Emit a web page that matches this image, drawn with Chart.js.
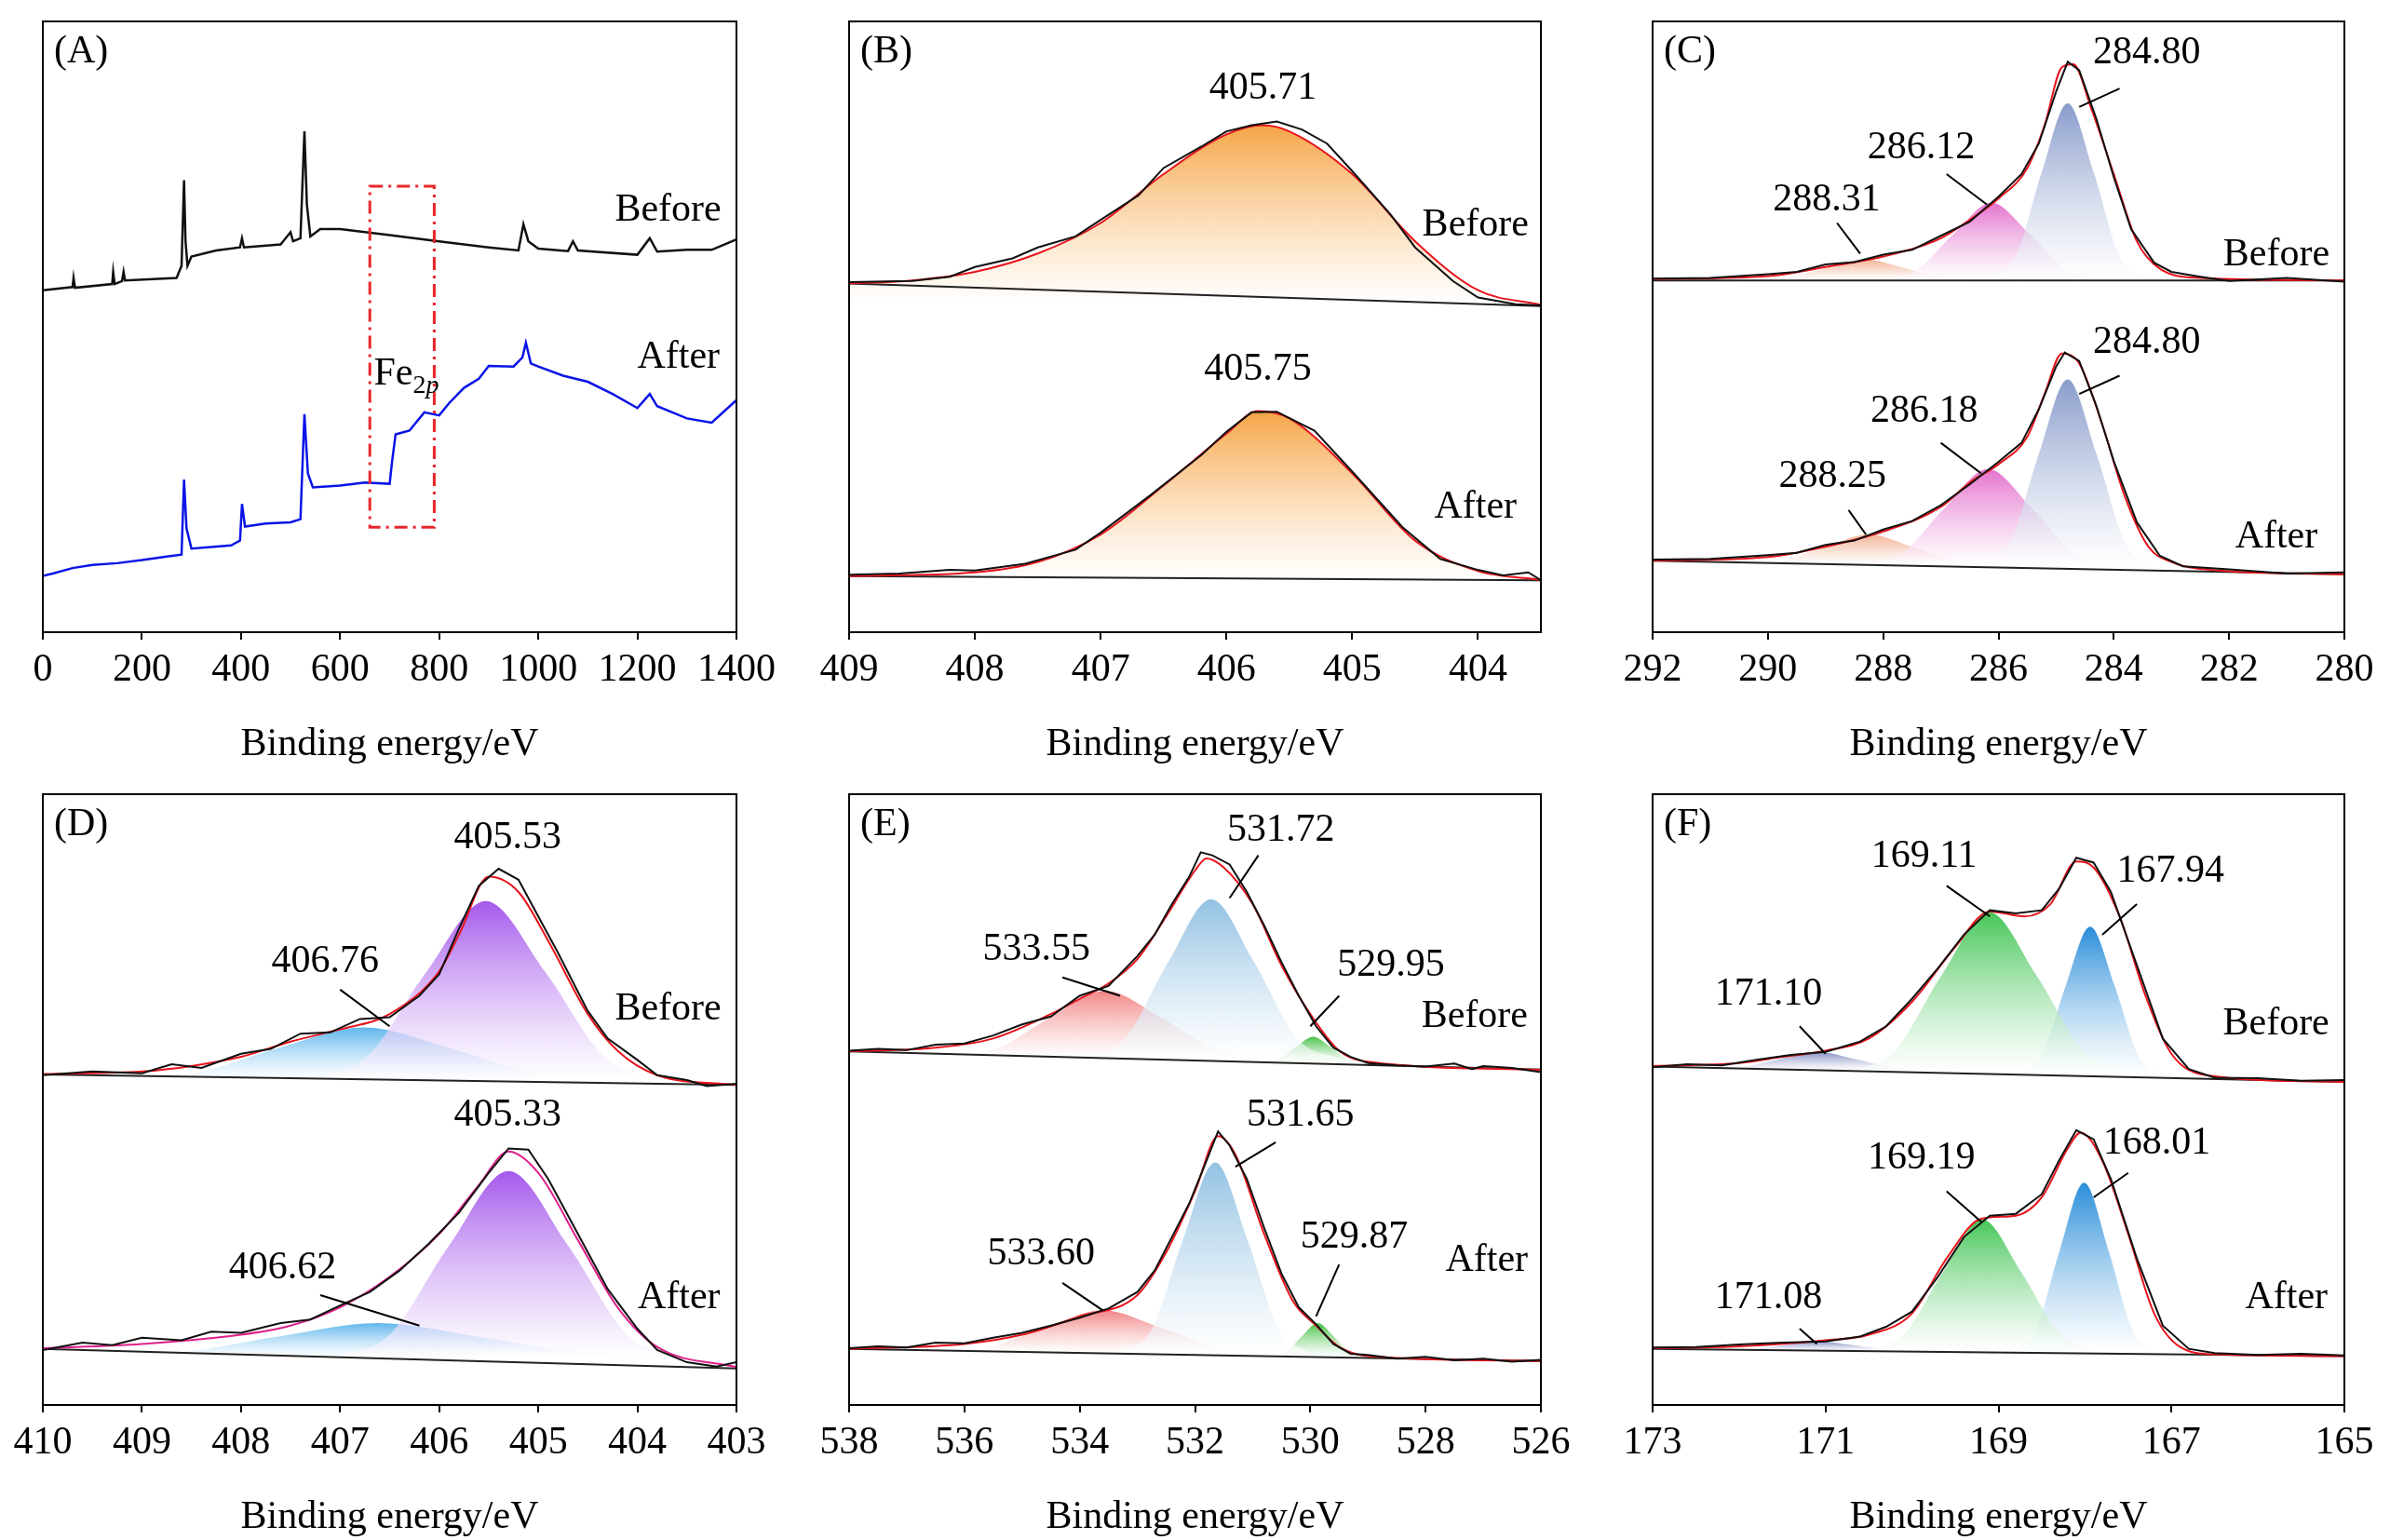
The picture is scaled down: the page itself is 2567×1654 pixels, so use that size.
<!DOCTYPE html>
<html><head><meta charset="utf-8">
<script src="https://cdn.jsdelivr.net/npm/chart.js@4"></script>
<style>body{margin:0;background:#fff;width:2567px;height:1654px;position:relative;overflow:hidden}canvas{position:absolute}</style>
</head><body>
<script>
// ---------- DATA ----------
const A_before=[[0,56],[60,56.5],[62,58],[65,56.4],[140,57],[142,59],[145,57],[160,57.5],[163,59],[166,57.6],[270,58],[280,60],[285,74],[288,64],[292,60],[300,61.5],[350,62.5],[398,63],[402,64.5],[406,63],[480,63.5],[500,65.5],[505,64],[520,64.5],[528,82],[533,70],[540,64.8],[560,66],[600,66],[700,65],[800,64],[900,63],[960,62.5],[970,66.8],[980,64],[1000,62.8],[1060,62.4],[1070,64],[1080,62.5],[1200,61.8],[1225,64.5],[1240,62.3],[1300,62.6],[1350,62.6],[1400,64.3]];
const A_after=[[0,9.2],[20,9.6],[60,10.5],[100,11],[150,11.3],[200,11.8],[250,12.4],[280,12.7],[285,25],[290,17],[300,13.7],[380,14.2],[398,15],[402,21],[408,17.3],[450,17.8],[500,18],[520,18.5],[528,35.7],[535,26],[545,23.7],[600,24],[650,24.5],[700,24.3],[705,28],[712,32.4],[740,33],[770,36],[800,35.5],[820,37.5],[850,40],[880,41.5],[900,43.6],[950,43.5],[968,45],[975,47.4],[985,44],[1000,43.5],[1050,42],[1100,41],[1150,39],[1200,36.7],[1225,39],[1240,37],[1300,35],[1350,34.3],[1400,38]];
const A_box=[660,790,17.2,73];

const B_bef_base=[[409,57.1],[403.5,53.4]];
const B_bef_fit=[[409,57.1],[408.5,57.6],[408,59],[407.5,62],[407,67],[406.5,75],[406,81.5],[405.71,83],[405.5,82],[405,75],[404.5,64],[404,56],[403.5,53.6]];
const B_bef_raw=[[409,57.3],[408.5,57.5],[408.2,58.2],[408,59.8],[407.7,61.2],[407.5,63],[407.2,64.8],[407,67.5],[406.7,71.5],[406.5,76],[406.2,79.5],[406,82],[405.8,83],[405.6,83.6],[405.4,82.3],[405.2,80],[405,75.5],[404.7,68.5],[404.5,63],[404.2,57.5],[404,54.8],[403.7,53.7],[403.5,53.5]];
const B_aft_base=[[409,9.2],[403.5,8.5]];
const B_aft_fit=[[409,9.2],[408,9.8],[407.5,11.5],[407,16],[406.5,24],[406,32.5],[405.75,36.2],[405.5,35],[405,26],[404.5,15],[404,10],[403.5,8.6]];
const B_aft_raw=[[409,9.4],[408.6,9.6],[408.2,10.2],[408,10.1],[407.6,11.2],[407.2,13.5],[407,16.3],[406.6,22.5],[406.2,29],[406,32.8],[405.8,36],[405.6,36.1],[405.3,33],[405,26.3],[404.6,17.2],[404.3,12],[404,10.2],[403.8,9.3],[403.6,9.8],[403.5,8.5]];
const B_labels=[[405.71,89,'405.71'],[404.02,66.6,'Before'],[405.75,43,'405.75'],[404.02,20.4,'After']];

const C_bef_base=[[292,57.6],[280,57.6]];
const C_bef_fit=[[292,57.8],[290,58.3],[289,59.8],[288,61.5],[287,64.5],[286.5,67.5],[286,71],[285.5,76],[285.2,83],[284.9,92.5],[284.7,93],[284.4,86],[284,75],[283.6,64],[283.2,59.5],[282.5,58],[280,57.6]];
const C_bef_raw=[[292,57.9],[291,58],[290,58.6],[289.5,59],[289,60.2],[288.5,60.6],[288,61.8],[287.5,62.6],[287,64.9],[286.5,67.2],[286,71.3],[285.6,75],[285.3,80],[285,88.5],[284.8,93.4],[284.6,92],[284.3,84],[284,74.5],[283.7,66],[283.3,60.5],[283,59],[282.5,58.2],[282,57.5],[281,58],[280,57.4]];
const C_bef_c1=[[283.45,57.9],[283.9,61.5],[284.35,75.3],[284.8,86.6],[285.25,75.3],[285.7,61.5],[286.15,57.9]];
const C_bef_c2=[[284.17,57.7],[284.82,59.3],[285.47,65.3],[286.12,70.3],[286.77,65.3],[287.42,59.3],[288.07,57.7]];
const C_bef_c3=[[286.36,57.6],[287.01,58.1],[287.66,59.7],[288.31,61],[288.96,59.7],[289.61,58.1],[290.26,57.6]];
const C_aft_base=[[292,11.7],[280,9.5]];
const C_aft_fit=[[292,11.7],[290,12.3],[289,14],[288,16.5],[287,20.5],[286.5,24.5],[286,27.5],[285.5,32],[285.2,39],[284.9,45.6],[284.6,44],[284.2,34],[283.8,22],[283.4,14],[283,11.5],[282,10],[280,9.5]];
const C_aft_raw=[[292,11.9],[291,12],[290,12.6],[289.5,13],[289,14.3],[288.5,15],[288,16.8],[287.5,18.2],[287,20.8],[286.5,24.2],[286,27.9],[285.6,31],[285.3,36.5],[285,43.5],[284.85,45.8],[284.6,44.4],[284.3,37],[284,28],[283.6,18],[283.2,12.5],[282.8,10.8],[282,10.3],[281,9.6],[280,9.8]];
const C_aft_c1=[[283.3,10.7],[283.8,14.6],[284.3,29.2],[284.8,41.4],[285.3,29.2],[285.8,14.6],[286.3,10.7]];
const C_aft_c2=[[283.93,10.9],[284.68,12.9],[285.43,20.4],[286.18,26.7],[286.93,20.4],[287.68,12.9],[288.43,10.9]];
const C_aft_c3=[[286,11],[286.75,11.7],[287.5,14],[288.25,16],[289,14],[289.75,11.7],[290.5,11]];
const C_labels=[[283.43,94.8,'284.80',283.9,89,284.6,86],[287.34,79.3,'286.12',286.9,75,286.2,70],[288.98,70.8,'288.31',288.8,67,288.4,62],[281.18,61.8,'Before'],
  [283.43,47.4,'284.80',283.9,42,284.6,39],[287.29,36.2,'286.18',287,31,286.3,26],[288.88,25.4,'288.25',288.6,20,288.3,16],[281.18,15.5,'After']];

const D_bef_base=[[410,54.1],[403,52.4]];
const D_bef_fit=[[410,54.2],[409,54.6],[408.5,55.5],[408,57],[407.5,59.5],[407,61.5],[406.5,64],[406,71],[405.8,77],[405.5,86.5],[405.2,84],[404.9,76],[404.5,64],[404.2,58],[403.8,54],[403,52.4]];
const D_bef_raw=[[410,54],[409.5,54.6],[409,54.3],[408.7,55.8],[408.4,55.2],[408,57.5],[407.7,58.3],[407.4,60.8],[407.1,61],[406.8,63.2],[406.5,63.5],[406.2,67],[406,70.5],[405.8,78],[405.6,85],[405.4,87.8],[405.2,86],[405,80],[404.8,74],[404.5,64.5],[404.3,60],[404,56.5],[403.8,54],[403.5,53.2],[403.3,52.2],[403,52.6]];
const D_bef_c1=[[403.73,53.3],[404.33,57],[404.93,70.9],[405.53,82.5],[406.13,70.9],[406.73,57],[407.33,53.3]];
const D_bef_c2=[[404.21,53.4],[405.06,54.4],[405.91,58.5],[406.76,61.8],[407.61,58.5],[408.46,54.4],[409.31,53.4]];
const D_aft_base=[[410,9.2],[403,6]];
const D_aft_fit=[[410,9.3],[409,10],[408,11.5],[407.5,13],[407,16],[406.5,21],[406,28],[405.6,36],[405.3,41.5],[405,38],[404.6,27],[404.2,16],[403.8,9.5],[403,6.2]];
const D_aft_raw=[[410,9],[409.6,10.2],[409.3,9.8],[409,11],[408.6,10.6],[408.3,12],[408,11.8],[407.6,13.4],[407.3,14],[407,16.3],[406.7,18.5],[406.4,22],[406.1,26.5],[405.8,31.5],[405.5,38],[405.3,42],[405.1,41.8],[404.9,37],[404.6,28],[404.3,19],[404,12.5],[403.8,9],[403.5,7],[403.2,6.3],[403,7]];
const D_aft_c1=[[403.5,7.6],[404.1,11.5],[404.7,26.1],[405.3,38.3],[405.9,26.1],[406.5,11.5],[407.1,7.6]];
const D_aft_c2=[[403.62,7.9],[404.62,8.6],[405.62,11.2],[406.62,13.4],[407.62,11.2],[408.62,8.6],[409.62,7.9]];
const D_labels=[[405.31,92.8,'405.53'],[407.15,72.6,'406.76',407.0,68,406.5,62],[403.69,64.8,'Before'],
  [405.31,47.4,'405.33'],[407.58,22.4,'406.62',407.2,18,406.2,13],[403.58,17.5,'After']];

const E_bef_base=[[538,57.9],[526,54.9]];
const E_bef_fit=[[538,57.9],[536.5,58.5],[535.5,60],[534.5,64],[534,66.5],[533.5,69],[533,73],[532.5,80],[532,87.5],[531.8,89.5],[531.5,88],[531,82],[530.5,72],[530,64],[529.5,58],[529,56.2],[526,54.9]];
const E_bef_raw=[[538,58],[537.5,58.3],[537,58.1],[536.5,59],[536,59.2],[535.5,60.5],[535,62.3],[534.5,63.6],[534,67],[533.5,68.6],[533,73.5],[532.7,77],[532.4,82],[532.1,86.5],[531.9,90.5],[531.7,90],[531.4,88.5],[531.1,84],[530.8,78.5],[530.5,72.5],[530.2,67],[529.9,62],[529.6,58.5],[529.3,57],[529,56],[528.5,55.6],[528,55.4],[527.5,55.9],[527.2,55],[527,55.5],[526.5,55.2],[526,54.5]];
const E_bef_c1=[[529.47,56.6],[530.22,59.9],[530.97,72.4],[531.72,82.8],[532.47,72.4],[533.22,59.9],[533.97,56.6]];
const E_bef_c2=[[530.7,56.9],[531.65,58.3],[532.6,63.5],[533.55,67.8],[534.5,63.5],[535.45,58.3],[536.4,56.9]];
const E_bef_c3=[[529.05,56],[529.35,56.6],[529.65,58.6],[529.95,60.3],[530.25,58.6],[530.55,56.6],[530.85,56]];
const E_aft_base=[[538,9.2],[526,7.2]];
const E_aft_fit=[[538,9.2],[536,10],[535,11.5],[534,14.5],[533,18],[532.5,25],[532,35],[531.6,44],[531.3,41],[530.8,28],[530.3,17],[529.9,13],[529.5,9.5],[529,8],[526,7.2]];
const E_aft_raw=[[538,9.3],[537.5,9.6],[537,9.4],[536.5,10.2],[536,10.1],[535.5,11],[535,11.8],[534.5,13],[534,14.3],[533.5,15.8],[533,18.5],[532.7,22],[532.4,27.5],[532.1,33],[531.8,40],[531.6,44.8],[531.4,42.5],[531.1,37],[530.8,29],[530.5,21.5],[530.2,16],[529.9,13.2],[529.6,10],[529.3,8.4],[529,8.2],[528.5,7.6],[528,7.9],[527.5,7.3],[527,7.6],[526.5,7.1],[526,7.4]];
const E_aft_c1=[[530,8.5],[530.55,12.4],[531.1,27.3],[531.65,39.7],[532.2,27.3],[532.75,12.4],[533.3,8.5]];
const E_aft_c2=[[530.6,8.6],[531.6,9.4],[532.6,12.7],[533.6,15.5],[534.6,12.7],[535.6,9.4],[536.6,8.6]];
const E_aft_c3=[[529.03,7.9],[529.31,8.6],[529.59,11.2],[529.87,13.4],[530.15,11.2],[530.43,8.6],[530.71,7.9]];
const E_labels=[[530.51,94,'531.72',530.9,90,531.4,83],[534.75,74.6,'533.55',534.3,70,533.3,67],[528.6,72,'529.95',529.5,67,530,62],[527.15,63.6,'Before'],
  [530.17,47.4,'531.65',530.6,43,531.3,39],[534.67,24.7,'533.60',534.3,20,533.6,15.5],[529.24,27.4,'529.87',529.5,23,529.9,14.5],[526.94,23.7,'After']];

const F_bef_base=[[173,55.4],[165,52.9]];
const F_bef_fit=[[173,55.5],[172,56],[171.5,57],[171,58],[170.5,60],[170,66],[169.5,75],[169.1,80.8],[168.7,80],[168.4,82],[168.1,89],[167.9,88],[167.6,80],[167.3,67],[167,57.5],[166.6,54],[165,52.9]];
const F_bef_raw=[[173,55.3],[172.6,55.8],[172.2,55.6],[171.8,56.5],[171.4,57.3],[171,57.8],[170.6,59.5],[170.3,62],[170,66.5],[169.7,71.5],[169.4,77],[169.1,81],[168.8,80.5],[168.5,81],[168.3,84.5],[168.1,89.6],[167.9,88.8],[167.7,84],[167.4,72],[167.1,60],[166.8,55],[166.5,53.6],[166,53.5],[165.5,53.1],[165,53.2]];
const F_bef_c1=[[167.46,54.5],[168.01,57.8],[168.56,70.3],[169.11,80.7],[169.66,70.3],[170.21,57.8],[170.76,54.5]];
const F_bef_c2=[[167.1,54.1],[167.38,57.1],[167.66,68.7],[167.94,78.3],[168.22,68.7],[168.5,57.1],[168.78,54.1]];
const F_bef_c3=[[169.75,54.8],[170.2,55.2],[170.65,56.6],[171.1,57.8],[171.55,56.6],[172,55.2],[172.45,54.8]];
const F_aft_base=[[173,9.2],[165,8]];
const F_aft_fit=[[173,9.3],[172,9.6],[171,10.6],[170.5,11.5],[170,15],[169.6,24],[169.2,30.5],[168.8,31],[168.5,34],[168.2,42],[168.05,44.6],[167.8,40],[167.5,28],[167.2,15],[166.9,9.5],[166.5,8.3],[165,8]];
const F_aft_raw=[[173,9.4],[172.5,9.5],[172,9.9],[171.5,10.2],[171,10.4],[170.6,11.2],[170.3,12.8],[170,15.3],[169.7,21],[169.4,27.5],[169.1,31],[168.8,31.3],[168.5,34.5],[168.3,40],[168.1,45],[167.9,43.5],[167.7,37],[167.4,24],[167.1,13],[166.8,9.2],[166.5,8.5],[166,8.2],[165.5,8.4],[165,8.1]];
const F_aft_c1=[[167.84,8.8],[168.29,11.6],[168.74,21.8],[169.19,30.4],[169.64,21.8],[170.09,11.6],[170.54,8.8]];
const F_aft_c2=[[167.17,8.7],[167.45,12.2],[167.73,25.4],[168.01,36.4],[168.29,25.4],[168.57,12.2],[168.85,8.7]];
const F_aft_c3=[[169.88,8.9],[170.28,9.1],[170.68,9.8],[171.08,10.4],[171.48,9.8],[171.88,9.1],[172.28,8.9]];
const F_labels=[[169.86,89.8,'169.11',169.6,85,169.1,80],[167.01,87.3,'167.94',167.4,82,167.8,77],[171.66,67.3,'171.10',171.3,62,171,57.5],[165.79,62.3,'Before'],
  [169.89,40.4,'169.19',169.6,35,169.2,30],[167.17,42.9,'168.01',167.5,38,167.9,34],[171.66,17.5,'171.08',171.3,12.5,171.1,10],[165.67,17.5,'After']];

const A_ticks=[0,200,400,600,800,1000,1200,1400];
const B_ticks=[409,408,407,406,405,404];
const C_ticks=[292,290,288,286,284,282,280];
const D_ticks=[410,409,408,407,406,405,404,403];
const E_ticks=[538,536,534,532,530,528,526];
const F_ticks=[173,171,169,167,165];
const xTitle='Binding energy/eV';

// ---------- RENDER ----------
const FONT='"Liberation Serif","Times New Roman",serif';
const FS=42;
const pts=a=>a.map(p=>({x:p[0],y:p[1]}));
function line(d,color,w,smooth){return {data:pts(d),borderColor:color,borderWidth:w,pointRadius:0,fill:false,tension:smooth?0.4:0,cubicInterpolationMode:smooth?'monotone':'default',order:0};}
function comp(d,color){
  const base=Math.min(d[0][1],d[d.length-1][1]);const top=Math.max(...d.map(p=>p[1]));
  return {data:pts(d),borderWidth:0,pointRadius:0,tension:0.4,cubicInterpolationMode:'monotone',order:5,fill:{value:base},
    backgroundColor:(ctx)=>{const c=ctx.chart;if(!c.chartArea)return color;const y=c.scales.y;
      const g=c.ctx.createLinearGradient(0,y.getPixelForValue(top),0,y.getPixelForValue(base));
      g.addColorStop(0,color);g.addColorStop(1,'rgba(255,255,255,0.6)');return g;}};
}
const frame={id:'frame',afterDraw(c){const a=c.chartArea,x=c.ctx;x.save();x.strokeStyle='#000';x.lineWidth=2;x.strokeRect(a.left,a.top,a.right-a.left,a.bottom-a.top);
  const o=c.options.plugins.frame;x.fillStyle='#000';x.font=FS+'px '+FONT;x.textBaseline='top';x.textAlign='left';x.fillText(o.tag,a.left+12,a.top+12);
  const sx=c.scales.x,sy=c.scales.y;
  (o.labels||[]).forEach(l=>{x.textAlign='center';x.textBaseline='middle';x.fillText(l[2],sx.getPixelForValue(l[0]),sy.getPixelForValue(l[1]));
    if(l.length>3){x.beginPath();x.lineWidth=2;x.moveTo(sx.getPixelForValue(l[3]),sy.getPixelForValue(l[4]));x.lineTo(sx.getPixelForValue(l[5]),sy.getPixelForValue(l[6]));x.stroke();}});
  if(o.box){const b=o.box;x.strokeStyle='#e8262a';x.lineWidth=3;x.setLineDash([14,6,3,6]);
    const l=sx.getPixelForValue(b[0]),r=sx.getPixelForValue(b[1]),t=sy.getPixelForValue(b[3]),bt=sy.getPixelForValue(b[2]);x.strokeRect(l,t,r-l,bt-t);x.setLineDash([]);
    x.fillStyle='#000';x.textAlign='left';x.textBaseline='alphabetic';const px=sx.getPixelForValue(668),py=sy.getPixelForValue(40.5);
    x.font=FS+'px '+FONT;x.fillText('Fe',px,py);const w=x.measureText('Fe').width;x.font='28px '+FONT;x.fillText('2',px+w,py+9);const w2=x.measureText('2').width;x.font='italic 28px '+FONT;x.fillText('p',px+w+w2,py+9);}
  x.restore();}};
function panel(left,top,w,h,min,max,rev,ticks,datasets,tag,labels,box){
  const cv=document.createElement('canvas');const PL=40,PR=50,PT=10,HB=150;
  cv.style.left=(left-PL)+'px';cv.style.top=(top-PT)+'px';cv.width=w+PL+PR;cv.height=h+PT+HB;cv.style.width=cv.width+'px';cv.style.height=cv.height+'px';
  document.body.appendChild(cv);
  new Chart(cv,{type:'line',data:{datasets},plugins:[frame],options:{responsive:false,animation:false,devicePixelRatio:1,
    layout:{padding:{left:PL,right:PR,top:PT,bottom:0}},
    plugins:{legend:{display:false},tooltip:{enabled:false},frame:{tag,labels,box}},
    scales:{x:{type:'linear',min,max,reverse:rev,afterFit:s=>{s.height=HB;},afterBuildTicks:s=>{s.ticks=ticks.map(v=>({value:v}));},
      ticks:{autoSkip:false,maxRotation:0,color:'#000',font:{family:FONT,size:FS},padding:8,callback:v=>String(v)},
      grid:{drawOnChartArea:false,tickLength:8,color:'#000',lineWidth:2},border:{color:'#000',width:2},
      title:{display:true,text:xTitle,color:'#000',font:{family:FONT,size:FS},padding:{top:26}}},
      y:{display:false,min:0,max:100}}}});
}
const R1=[23,656],R2=[853,656];
panel(46,R1[0],745,R1[1],0,1400,false,A_ticks,[line(A_before,'#111',2.5,false),line(A_after,'#0a14e6',2.5,false)],'(A)',[[1262,69,'Before'],[1283,45,'After']],A_box);
panel(912,R1[0],743,R1[1],403.5,409,true,B_ticks,[
  line(B_bef_raw,'#111',2,false),line(B_bef_fit,'#e8141c',2,true),line(B_bef_base,'#222',2,false),comp(B_bef_fit,'rgba(245,160,60,0.95)'),
  line(B_aft_raw,'#111',2,false),line(B_aft_fit,'#e8141c',2,true),line(B_aft_base,'#222',2,false),comp(B_aft_fit,'rgba(245,160,60,0.95)')],'(B)',B_labels);
panel(1775,R1[0],743,R1[1],280,292,true,C_ticks,[
  line(C_bef_raw,'#111',2,false),line(C_bef_fit,'#e8141c',2,true),line(C_bef_base,'#222',2,false),
  comp(C_bef_c1,'rgba(130,150,200,0.95)'),comp(C_bef_c2,'rgba(225,100,200,0.9)'),comp(C_bef_c3,'rgba(240,165,130,0.85)'),
  line(C_aft_raw,'#111',2,false),line(C_aft_fit,'#e8141c',2,true),line(C_aft_base,'#222',2,false),
  comp(C_aft_c1,'rgba(130,150,200,0.95)'),comp(C_aft_c2,'rgba(225,100,200,0.9)'),comp(C_aft_c3,'rgba(240,165,130,0.85)')],'(C)',C_labels);
panel(46,R2[0],745,R2[1],403,410,true,D_ticks,[
  line(D_bef_raw,'#111',2,false),line(D_bef_fit,'#e8141c',2,true),line(D_bef_base,'#222',2,false),
  comp(D_bef_c1,'rgba(160,80,235,0.95)'),comp(D_bef_c2,'rgba(80,175,235,0.9)'),
  line(D_aft_raw,'#111',2,false),line(D_aft_fit,'#e0208c',2,true),line(D_aft_base,'#222',2,false),
  comp(D_aft_c1,'rgba(160,80,235,0.95)'),comp(D_aft_c2,'rgba(80,175,235,0.9)')],'(D)',D_labels);
panel(912,R2[0],743,R2[1],526,538,true,E_ticks,[
  line(E_bef_raw,'#111',2,false),line(E_bef_fit,'#e8141c',2,true),line(E_bef_base,'#222',2,false),
  comp(E_bef_c1,'rgba(140,190,225,0.95)'),comp(E_bef_c2,'rgba(240,120,120,0.9)'),comp(E_bef_c3,'rgba(60,190,60,0.95)'),
  line(E_aft_raw,'#111',2,false),line(E_aft_fit,'#e8141c',2,true),line(E_aft_base,'#222',2,false),
  comp(E_aft_c1,'rgba(140,190,225,0.95)'),comp(E_aft_c2,'rgba(240,120,120,0.9)'),comp(E_aft_c3,'rgba(60,190,60,0.95)')],'(E)',E_labels);
panel(1775,R2[0],743,R2[1],165,173,true,F_ticks,[
  line(F_bef_raw,'#111',2,false),line(F_bef_fit,'#e8141c',2,true),line(F_bef_base,'#222',2,false),
  comp(F_bef_c1,'rgba(60,195,80,0.95)'),comp(F_bef_c2,'rgba(30,135,215,0.95)'),comp(F_bef_c3,'rgba(120,130,190,0.9)'),
  line(F_aft_raw,'#111',2,false),line(F_aft_fit,'#e8141c',2,true),line(F_aft_base,'#222',2,false),
  comp(F_aft_c1,'rgba(60,195,80,0.95)'),comp(F_aft_c2,'rgba(30,135,215,0.95)'),comp(F_aft_c3,'rgba(120,130,190,0.9)')],'(F)',F_labels);
</script>
</body></html>
